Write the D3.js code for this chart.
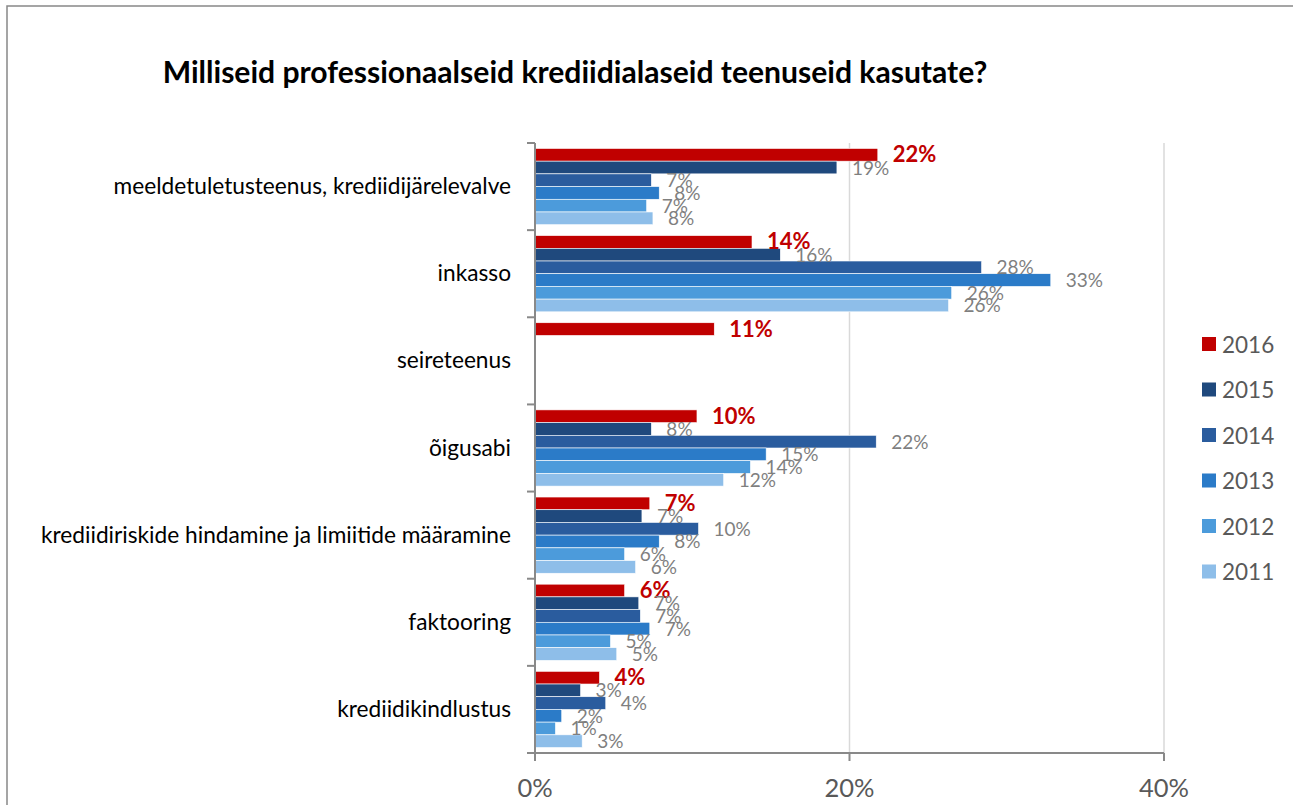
<html>
<meta charset="utf-8">
<head>
<title>Krediidialased teenused</title>
<script src="https://d3js.org/d3.v7.min.js"></script>
<style>
body { margin:0; background:#fff; }
text { font-family: Lato, "Open Sans", sans-serif; }
</style>
</head>
<body>
<svg id="chart" width="1293" height="805"></svg>
<script>
// data (bar lengths in %, labels as printed)
var categories = [
  'meeldetuletusteenus, krediidijärelevalve',
  'inkasso',
  'seireteenus',
  'õigusabi',
  'krediidiriskide hindamine ja limiitide määramine',
  'faktooring',
  'krediidikindlustus'
];
var years = ['2016', '2015', '2014', '2013', '2012', '2011'];
var colors = ['#C00000', '#1F497D', '#2A5C9E', '#2B7BC8', '#4C9BDB', '#8EBEE9'];

// one array per year, same order as categories (null = no bar)
var v2016 = [21.8, 13.8, 11.4, 10.3, 7.3, 5.7, 4.1];
var v2015 = [19.2, 15.6, null, 7.4, 6.8, 6.6, 2.9];
var v2014 = [7.4, 28.4, null, 21.7, 10.4, 6.7, 4.5];
var v2013 = [7.9, 32.8, null, 14.7, 7.9, 7.3, 1.7];
var v2012 = [7.1, 26.5, null, 13.7, 5.7, 4.8, 1.3];
var v2011 = [7.5, 26.3, null, 12.0, 6.4, 5.2, 3.0];
var values = [v2016, v2015, v2014, v2013, v2012, v2011];

// data labels as printed on the chart
var l2016 = ['22%', '14%', '11%', '10%', '7%', '6%', '4%'];
var l2015 = ['19%', '16%', null, '8%', '7%', '7%', '3%'];
var l2014 = ['7%', '28%', null, '22%', '10%', '7%', '4%'];
var l2013 = ['8%', '33%', null, '15%', '8%', '7%', '2%'];
var l2012 = ['7%', '26%', null, '14%', '6%', '5%', '1%'];
var l2011 = ['8%', '26%', null, '12%', '6%', '5%', '3%'];
var labels = [l2016, l2015, l2014, l2013, l2012, l2011];

var xTicks = [0, 20, 40];

var svg = d3.select('#chart');

// outer frame
svg.append('rect').attr('x', 7).attr('y', 6).attr('width', 1400).attr('height', 900)
  .attr('fill', 'none').attr('stroke', '#888').attr('stroke-width', 1.5);

var x = d3.scaleLinear().domain([0, 40]).range([535, 1164]);
var y = d3.scaleBand().domain(categories).range([143, 753]);
var yInner = d3.scaleBand().domain(years).range([0, y.bandwidth()])
  .paddingInner(0).paddingOuter(0.43);

// title
var title = svg.append('text')
  .attr('x', 575).attr('y', 83)
  .attr('text-anchor', 'middle')
  .attr('font-weight', 'bold')
  .attr('font-size', 28)
  .attr('fill', '#000')
  .text('Milliseid professionaalseid krediidialaseid teenuseid kasutate?');
var tw = title.node().getComputedTextLength();
title.attr('font-size', 28 * 825 / tw);

// gridlines
svg.append('g').selectAll('line')
  .data(xTicks.slice(1))
  .join('line')
  .attr('x1', d => x(d)).attr('x2', d => x(d))
  .attr('y1', 143).attr('y2', 753)
  .attr('stroke', '#D9D9D9').attr('stroke-width', 1.5);

// bars
var groups = svg.append('g').selectAll('g')
  .data(categories)
  .join('g')
  .attr('transform', d => 'translate(0,' + y(d) + ')');

groups.each(function(cat, ci) {
  var g = d3.select(this);
  var rows = years.map((yr, si) => ({ yr: yr, si: si, v: values[si][ci], lab: labels[si][ci] }))
    .filter(d => d.v != null);

  g.selectAll('rect')
    .data(rows)
    .join('rect')
    .attr('x', x(0))
    .attr('y', d => yInner(d.yr))
    .attr('width', d => x(d.v) - x(0))
    .attr('height', yInner.bandwidth())
    .attr('fill', d => colors[d.si])
    .attr('stroke', '#fff').attr('stroke-width', 0.6);

  g.selectAll('text.val')
    .data(rows)
    .join('text')
    .attr('class', 'val')
    .attr('x', d => x(d.v) + 15)
    .attr('y', d => yInner(d.yr) + yInner.bandwidth() / 2 + (d.si == 0 ? 7.5 : 7))
    .attr('font-size', d => d.si == 0 ? 22 : 19)
    .attr('font-weight', d => d.si == 0 ? 'bold' : 'normal')
    .attr('fill', d => d.si == 0 ? '#C00000' : '#7F7F7F')
    .text(d => d.lab);
});

// y axis
var yAxis = svg.append('g');
yAxis.append('line').attr('x1', 535).attr('x2', 535).attr('y1', 143).attr('y2', 761)
  .attr('stroke', '#898989').attr('stroke-width', 2);
yAxis.selectAll('line.tk')
  .data(categories.map(c => y(c)).concat([753]))
  .join('line')
  .attr('class', 'tk')
  .attr('x1', 527).attr('x2', 535)
  .attr('y1', d => d).attr('y2', d => d)
  .attr('stroke', '#898989').attr('stroke-width', 2);
yAxis.selectAll('text')
  .data(categories)
  .join('text')
  .attr('x', 511)
  .attr('y', d => y(d) + y.bandwidth() / 2 + 7.5)
  .attr('text-anchor', 'end')
  .attr('font-size', 22.7)
  .attr('fill', '#000')
  .text(d => d);

// x axis
var xAxis = svg.append('g');
xAxis.append('line').attr('x1', 527).attr('x2', 1164).attr('y1', 753).attr('y2', 753)
  .attr('stroke', '#898989').attr('stroke-width', 2);
xAxis.selectAll('line.tk')
  .data(xTicks)
  .join('line')
  .attr('class', 'tk')
  .attr('x1', d => x(d)).attr('x2', d => x(d))
  .attr('y1', 753).attr('y2', 761)
  .attr('stroke', '#898989').attr('stroke-width', 2);
xAxis.selectAll('text')
  .data(xTicks)
  .join('text')
  .attr('x', d => x(d))
  .attr('y', 797)
  .attr('text-anchor', 'middle')
  .attr('font-size', 25.5)
  .attr('fill', '#595959')
  .text(d => d + '%');

// legend
var legend = svg.append('g').selectAll('g')
  .data(years)
  .join('g')
  .attr('transform', (d, i) => 'translate(1202,' + (344 + i * 45.5) + ')');
legend.append('rect')
  .attr('x', 0).attr('y', -7).attr('width', 14).attr('height', 14)
  .attr('fill', (d, i) => colors[i]);
legend.append('text')
  .attr('x', 20).attr('y', 8.5)
  .attr('font-size', 22.5)
  .attr('fill', '#595959')
  .text(d => d);
</script>
</body>
</html>
